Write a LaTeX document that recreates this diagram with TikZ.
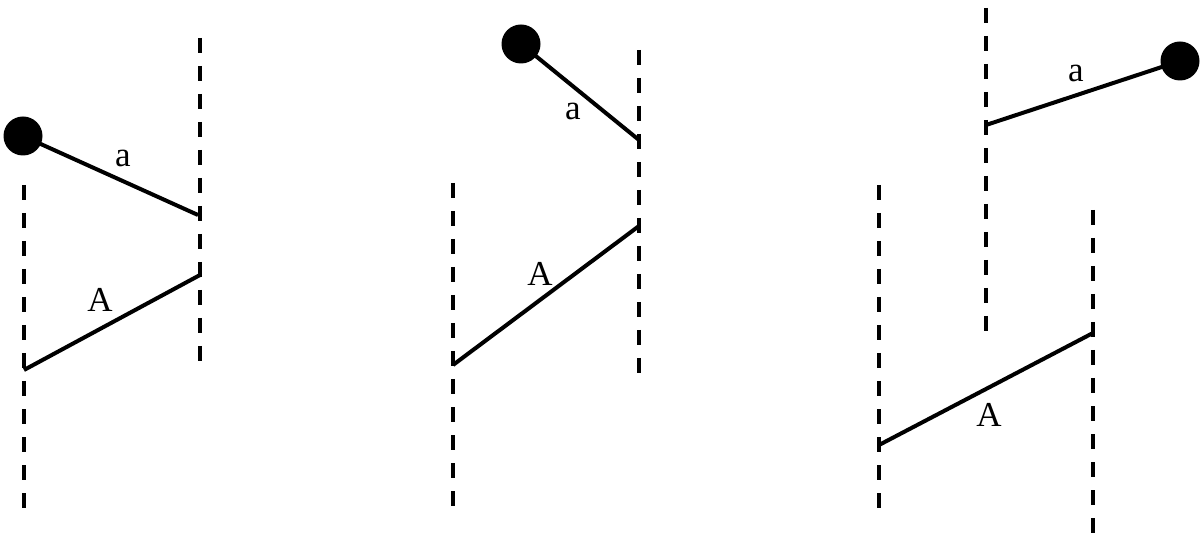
\documentclass[tikz,border=0pt]{standalone}
\usepackage{fontspec}
\setmainfont{Liberation Serif}
\usepackage{tikz}
\usetikzlibrary{positioning, calc}

\tikzset{
  wall/.style={line width=4pt, dash pattern=on 15pt off 13pt},
  bond/.style={line width=4pt},
  ball/.style={circle, fill=black, draw=none, minimum size=39pt, inner sep=0pt},
  lbl/.style={inner sep=0pt, font=\fontsize{35}{40}\selectfont}
}

\begin{document}
\begin{tikzpicture}[x=1pt, y=-1pt]
\useasboundingbox (0,0) rectangle (1200,545);

% left pair
\coordinate (l1t) at (24,185);
\coordinate (l1b) at (24,515);
\coordinate (r1t) at (200,38);
\coordinate (r1b) at (200,365);
\draw[wall] (l1t) -- (l1b);
\draw[wall] (r1t) -- (r1b);
\node[ball] (b1) at (23,136) {};
\coordinate (a1) at (198,215);
\draw[bond] (b1.center) -- (a1);
\coordinate (c1) at (24,370);
\coordinate (d1) at (200,275);
\draw[bond] (c1) -- (d1);
\node[lbl] (sa1) at (123,158) {a};
\node[lbl] (sA1) at (100,300) {A};

% middle pair
\coordinate (l2t) at (453,183);
\coordinate (l2b) at (453,512);
\coordinate (r2t) at (639,50);
\coordinate (r2b) at (639,380);
\draw[wall] (l2t) -- (l2b);
\draw[wall] (r2t) -- (r2b);
\node[ball] (b2) at (521,44) {};
\coordinate (a2) at (639,140);
\draw[bond] (b2.center) -- (a2);
\coordinate (c2) at (453,365);
\coordinate (d2) at (639,226);
\draw[bond] (c2) -- (d2);
\node[lbl] (sa2) at (573,111) {a};
\node[lbl] (sA2) at (540,274) {A};

% right pair
\coordinate (u3t) at (986,8);
\coordinate (u3b) at (986,333);
\draw[wall] (u3t) -- (u3b);
\node[ball] (b3) at (1180,61) {};
\coordinate (a3) at (986,125);
\draw[bond] (a3) -- (b3.center);
\node[lbl] (sa3) at (1076,73) {a};
\coordinate (l3t) at (879,185);
\coordinate (l3b) at (879,510);
\coordinate (r3t) at (1093,210);
\coordinate (r3b) at (1093,538);
\draw[wall] (l3t) -- (l3b);
\draw[wall] (r3t) -- (r3b);
\coordinate (c3) at (879,445);
\coordinate (d3) at (1093,333);
\draw[bond] (c3) -- (d3);
\node[lbl] (sA3) at (989,415) {A};
\end{tikzpicture}
\end{document}
